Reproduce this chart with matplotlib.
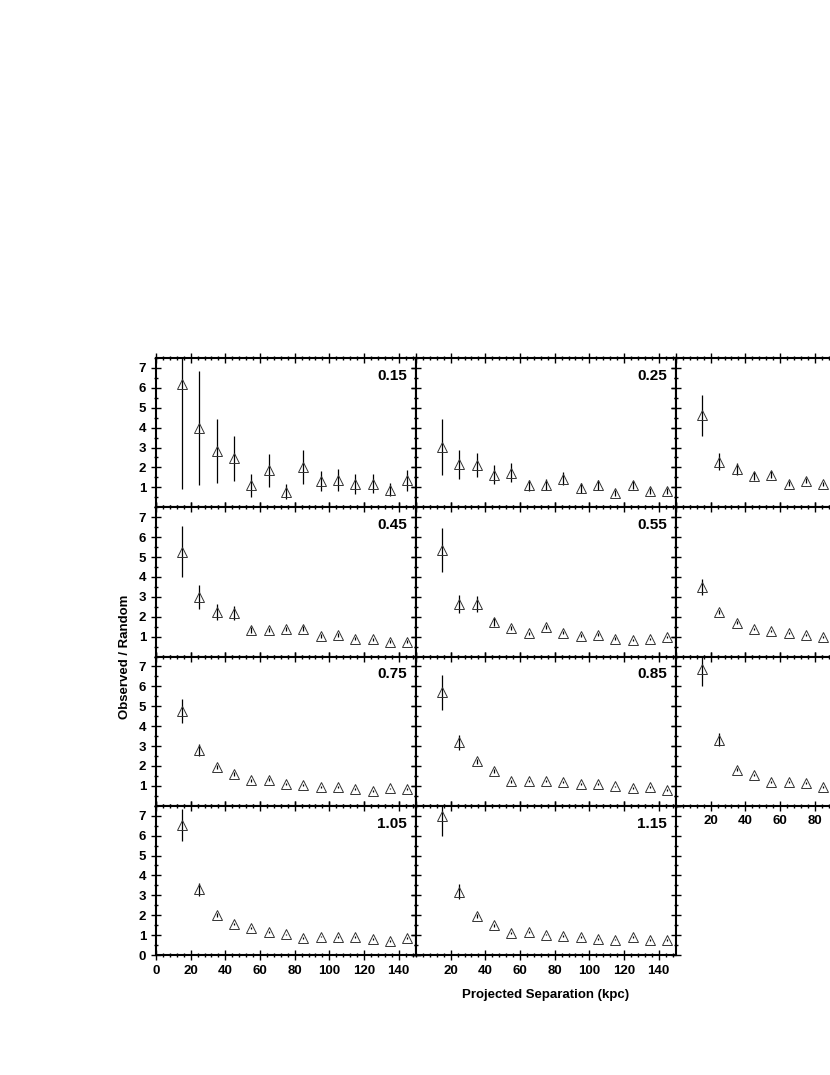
import matplotlib
matplotlib.use("Agg")
import matplotlib.pyplot as plt
from matplotlib.ticker import MultipleLocator, FixedLocator, NullFormatter

plt.rcParams["font.family"] = ["Liberation Sans", "DejaVu Sans"]
plt.rcParams["font.weight"] = "bold"

sep = [15, 25, 35, 45, 55, 65, 75, 85, 95, 105, 115, 125, 135, 145]
sep_cut = sep[:8]  # right column is cut off by the page edge

# labels of the right column (0.35, 0.65, 0.95) fall outside the page
panel_labels = ["0.15", "0.25", None,
                "0.45", "0.55", None,
                "0.75", "0.85", None,
                "1.05", "1.15"]

ratio_015 = [6.17, 3.99, 2.83, 2.45, 1.10, 1.86, 0.77, 2.03, 1.31, 1.36, 1.19, 1.19, 0.89, 1.36]
err_015 = [5.25, 2.85, 1.60, 1.13, 0.57, 0.84, 0.38, 0.84, 0.50, 0.56, 0.50, 0.48, 0.33, 0.52]
ratio_025 = [3.03, 2.15, 2.11, 1.64, 1.74, 1.10, 1.14, 1.44, 0.97, 1.14, 0.72, 1.14, 0.80, 0.84]
err_025 = [1.41, 0.75, 0.60, 0.46, 0.48, 0.29, 0.29, 0.33, 0.25, 0.25, 0.15, 0.20, 0.15, 0.15]
ratio_035 = [4.63, 2.28, 1.91, 1.56, 1.64, 1.19, 1.34, 1.17]
err_035 = [1.03, 0.43, 0.31, 0.20, 0.18, 0.12, 0.12, 0.10]
ratio_045 = [5.27, 3.01, 2.25, 2.17, 1.33, 1.33, 1.38, 1.40, 1.05, 1.10, 0.90, 0.87, 0.75, 0.75]
err_045 = [1.27, 0.60, 0.40, 0.35, 0.15, 0.12, 0.12, 0.12, 0.10, 0.10, 0.08, 0.08, 0.08, 0.08]
ratio_055 = [5.36, 2.64, 2.64, 1.75, 1.45, 1.17, 1.50, 1.20, 1.05, 1.10, 0.90, 0.83, 0.87, 0.97]
err_055 = [1.09, 0.45, 0.40, 0.20, 0.10, 0.08, 0.10, 0.08, 0.07, 0.07, 0.06, 0.06, 0.06, 0.06]
ratio_065 = [3.48, 2.25, 1.70, 1.37, 1.28, 1.17, 1.08, 0.97]
err_065 = [0.40, 0.10, 0.08, 0.06, 0.05, 0.05, 0.05, 0.05]
ratio_075 = [4.75, 2.78, 1.95, 1.60, 1.27, 1.31, 1.07, 1.05, 0.94, 0.95, 0.84, 0.74, 0.87, 0.85]
err_075 = [0.60, 0.30, 0.12, 0.10, 0.06, 0.06, 0.05, 0.05, 0.05, 0.05, 0.04, 0.04, 0.04, 0.04]
ratio_085 = [5.70, 3.19, 2.23, 1.73, 1.22, 1.25, 1.24, 1.20, 1.07, 1.07, 0.97, 0.90, 0.94, 0.80]
err_085 = [0.88, 0.38, 0.12, 0.10, 0.06, 0.05, 0.05, 0.05, 0.05, 0.05, 0.04, 0.04, 0.04, 0.04]
ratio_095 = [6.88, 3.32, 1.81, 1.56, 1.19, 1.19, 1.14, 0.94]
err_095 = [0.88, 0.34, 0.08, 0.06, 0.05, 0.05, 0.05, 0.04]
ratio_105 = [6.54, 3.31, 2.01, 1.55, 1.38, 1.18, 1.04, 0.84, 0.92, 0.89, 0.89, 0.79, 0.69, 0.86]
err_105 = [0.80, 0.33, 0.08, 0.06, 0.05, 0.05, 0.04, 0.04, 0.04, 0.04, 0.04, 0.04, 0.04, 0.04]
ratio_115 = [6.96, 3.19, 1.96, 1.49, 1.12, 1.14, 1.02, 0.96, 0.89, 0.80, 0.77, 0.89, 0.74, 0.74]
err_115 = [1.00, 0.36, 0.12, 0.08, 0.05, 0.05, 0.04, 0.04, 0.04, 0.04, 0.04, 0.04, 0.04, 0.04]

series = [
    (sep, ratio_015, err_015), (sep, ratio_025, err_025), (sep_cut, ratio_035, err_035),
    (sep, ratio_045, err_045), (sep, ratio_055, err_055), (sep_cut, ratio_065, err_065),
    (sep, ratio_075, err_075), (sep, ratio_085, err_085), (sep_cut, ratio_095, err_095),
    (sep, ratio_105, err_105), (sep, ratio_115, err_115),
]

W, H = 830, 1075
fig = plt.figure(figsize=(W / 100, H / 100), dpi=100)

left, col_w = 156, 260
top, bottom = 358, 955
row_h = (bottom - top) / 4

for i, (label, (xs, ys, es)) in enumerate(zip(panel_labels, series)):
    row, col = divmod(i, 3)
    x0 = left + col * col_w
    y_top = top + row * row_h
    ax = fig.add_axes([x0 / W, 1 - (y_top + row_h) / H, col_w / W, row_h / H])

    ax.errorbar(xs, ys, yerr=es, fmt="none", ecolor="black", elinewidth=0.9, capsize=0)
    ax.plot(xs, ys, linestyle="none", marker="^", markersize=7.5,
            markerfacecolor="none", markeredgecolor="#333333", markeredgewidth=0.7)

    ax.set_xlim(0, 150)
    ax.set_ylim(0, 7.5)
    ax.xaxis.set_major_locator(MultipleLocator(20))
    ax.xaxis.set_minor_locator(MultipleLocator(4))
    ax.yaxis.set_major_locator(MultipleLocator(1))
    ax.yaxis.set_minor_locator(MultipleLocator(0.5))
    ax.tick_params(which="both", direction="inout", top=True, right=True,
                   labelsize=9.5, width=1.0)
    ax.tick_params(which="major", length=7)
    ax.tick_params(which="minor", length=3.5)
    for s in ax.spines.values():
        s.set_linewidth(1.5)

    # y labels only on the left column
    if col == 0:
        if row == 3:
            ax.set_yticks(range(0, 8))
        else:
            ax.yaxis.set_major_locator(FixedLocator(range(1, 8)))
        for t in ax.get_yticklabels():
            t.set_fontweight("bold")
    else:
        ax.yaxis.set_major_formatter(NullFormatter())

    # x labels on the bottom panel of each column
    if i in (8, 9, 10):
        if i == 9:
            ax.set_xticks(range(0, 150, 20))
        elif i == 8:
            ax.set_xticks(range(20, 100, 20))
        else:
            ax.set_xticks(range(20, 150, 20))
        for t in ax.get_xticklabels():
            t.set_fontweight("bold")
    else:
        ax.xaxis.set_major_formatter(NullFormatter())

    if label:
        ax.text(0.965, 0.88, label, transform=ax.transAxes, ha="right", va="center",
                fontsize=11, fontweight="bold")

fig.text(125 / W, 1 - 657 / H, "Observed / Random", rotation=90, ha="center", va="center",
         fontsize=9.5, fontweight="bold")
fig.text(546 / W, 1 - 995 / H, "Projected Separation (kpc)", ha="center", va="center",
         fontsize=9.5, fontweight="bold")

fig.savefig("out.png", dpi=100)
plt.close(fig)
